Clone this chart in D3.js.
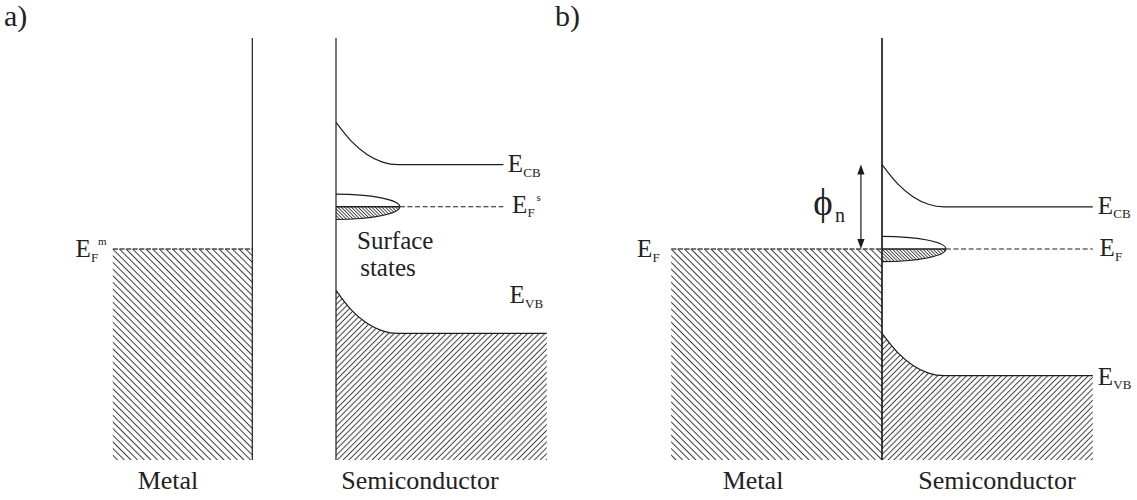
<!DOCTYPE html>
<html>
<head>
<meta charset="utf-8">
<script src="https://cdn.jsdelivr.net/npm/d3@7"></script>
<style>
  html, body { margin: 0; padding: 0; background: #fff; }
  svg { display: block; }
  svg text { font-family: "Liberation Serif", serif; }
</style>
</head>
<body>
<svg id="chart" width="1137" height="500"></svg>
<script>
// ---- Band-diagram data (energies in eV above the bottom of the frame,
//      depth in units of the depletion width W, surface of the semiconductor at 0)
const energyRange = [0, 10];
const panelTags = ["a)", "b)"];
const regionNames = ["Metal", "Semiconductor"];

// a) metal and semiconductor separated
const metalSpanA = [-3.6, -1.35];
const semiSpanA = [0, 3.4];
const fermiMetalA = 5.0;
const fermiSurfaceA = 6.0;
const cbDepthA = [0, 0.25, 0.5, 0.75, 1.0, 2.7];
const cbEnergyA = [8.0, 7.55, 7.24, 7.06, 7.0, 7.0];
const vbDepthA = [0, 0.25, 0.5, 0.75, 1.0, 3.4];
const vbEnergyA = [4.02, 3.55, 3.24, 3.06, 3.0, 3.0];

// b) metal and semiconductor in contact
const metalSpanB = [-3.4, 0];
const semiSpanB = [0, 3.4];
const fermiB = 5.0;
const cbDepthB = [0, 0.25, 0.5, 0.75, 1.0, 3.4];
const cbEnergyB = [7.0, 6.55, 6.24, 6.06, 6.0, 6.0];
const vbDepthB = [0, 0.25, 0.5, 0.75, 1.0, 3.4];
const vbEnergyB = [3.0, 2.55, 2.24, 2.06, 2.0, 2.0];
const barrierB = [fermiB, 7.0];          // phi_n = E_CB(surface) - E_F

// surface-state band: extent into the gap and energy spread about its Fermi level
const surfaceStateDepth = 1.03;
const surfaceStateSpread = 0.3;

// ---- scales
const y = d3.scaleLinear().domain(energyRange).range([460, 38]);
const xA = d3.scaleLinear().domain([0, 1]).range([336, 398]);
const xB = d3.scaleLinear().domain([0, 1]).range([882, 944]);

const svg = d3.select("#chart");
const defs = svg.append("defs");

function hatch(id, spacing, angle, width) {
  const p = defs.append("pattern")
    .attr("id", id)
    .attr("patternUnits", "userSpaceOnUse")
    .attr("width", 10).attr("height", spacing)
    .attr("patternTransform", `rotate(${angle})`);
  p.append("line")
    .attr("x1", 0).attr("x2", 10)
    .attr("y1", spacing / 2).attr("y2", spacing / 2)
    .attr("stroke", "#3a3a3a").attr("stroke-width", width);
}
hatch("hMetal", 4.7, 45, 1);
hatch("hSemi", 4.1, -45, 1);
hatch("hSurf", 2.4, 45, 0.9);

const ink = "#1c1c1c";

function txt(g, x, yy, size, s) {
  return g.append("text")
    .attr("x", x).attr("y", yy)
    .style("font-family", '"Liberation Serif", serif')
    .style("font-size", size + "px")
    .attr("fill", "#222")
    .text(s);
}

function band(depths, energies) {
  return depths.map((d, i) => [d, energies[i]]);
}

function energyLabel(g, px, py, sub, sup, supDx) {
  txt(g, px, py, 25, "E");
  txt(g, px + 15.5, py + 4.5, 13, sub);
  if (sup) txt(g, px + supDx, py - 12, 11, sup);
}

function surfaceStates(g, x, ef, dashEnd) {
  const x0 = x(0), xt = x(surfaceStateDepth);
  const yc = y(ef), yTop = y(ef + surfaceStateSpread), yBot = y(ef - surfaceStateSpread);
  const rx = xt - x0, ryU = yc - yTop, ryL = yBot - yc;
  // occupied lower half
  g.append("path")
    .attr("d", `M${x0},${yc} L${xt},${yc} A${rx},${ryL} 0 0 1 ${x0},${yBot} Z`)
    .attr("fill", "url(#hSurf)").attr("stroke", "none");
  g.append("path")
    .attr("d", `M${xt},${yc} A${rx},${ryL} 0 0 1 ${x0},${yBot}`)
    .attr("fill", "none").attr("stroke", ink).attr("stroke-width", 1.1);
  // empty upper half
  g.append("path")
    .attr("d", `M${x0},${yTop} A${rx},${ryU} 0 0 1 ${xt},${yc}`)
    .attr("fill", "none").attr("stroke", ink).attr("stroke-width", 1.1);
  g.append("line")
    .attr("x1", x0).attr("x2", xt).attr("y1", yc).attr("y2", yc)
    .attr("stroke", ink).attr("stroke-width", 1.6);
  g.append("line")
    .attr("x1", xt).attr("x2", x(dashEnd)).attr("y1", yc).attr("y2", yc)
    .attr("stroke", ink).attr("stroke-width", 1.1)
    .attr("stroke-dasharray", "5,2.6");
}

function drawPanel(x, p) {
  const g = svg.append("g");
  const line = d3.line().x(d => x(d[0])).y(d => y(d[1])).curve(d3.curveMonotoneX);
  const area = d3.area().x(d => x(d[0])).y0(y(energyRange[0])).y1(d => y(d[1])).curve(d3.curveMonotoneX);

  // metal: filled up to its Fermi level
  g.append("rect")
    .attr("x", x(p.metal[0])).attr("width", x(p.metal[1]) - x(p.metal[0]))
    .attr("y", y(p.fermiMetal)).attr("height", y(energyRange[0]) - y(p.fermiMetal))
    .attr("fill", "url(#hMetal)");
  g.append("line")
    .attr("x1", x(p.metal[0])).attr("x2", x(p.metal[1]))
    .attr("y1", y(p.fermiMetal)).attr("y2", y(p.fermiMetal))
    .attr("stroke", "#4a4a4a").attr("stroke-width", 1.5)
    .attr("stroke-dasharray", "5.2,1.4");

  // semiconductor valence band, filled
  g.append("path").datum(p.vb).attr("d", area).attr("fill", "url(#hSemi)");
  g.append("path").datum(p.vb).attr("d", line)
    .attr("fill", "none").attr("stroke", ink).attr("stroke-width", 1.2);
  // conduction band
  g.append("path").datum(p.cb).attr("d", line)
    .attr("fill", "none").attr("stroke", ink).attr("stroke-width", 1.2);

  surfaceStates(g, x, p.fermiSurface, p.dashEnd);

  // surfaces
  [p.metal[1], 0].forEach(d => {
    g.append("line")
      .attr("x1", x(d)).attr("x2", x(d))
      .attr("y1", y(energyRange[1])).attr("y2", y(energyRange[0]))
      .attr("stroke", ink).attr("stroke-width", 1.2);
  });
  return g;
}

// ---- a)
const gA = drawPanel(xA, {
  metal: metalSpanA, fermiMetal: fermiMetalA, fermiSurface: fermiSurfaceA,
  cb: band(cbDepthA, cbEnergyA), vb: band(vbDepthA, vbEnergyA), dashEnd: 2.7
});
energyLabel(gA, xA(2.77), y(cbEnergyA[cbEnergyA.length - 1]) + 7.5, "CB");
energyLabel(gA, xA(2.84), y(fermiSurfaceA) + 6, "F", "s", 24.5);
energyLabel(gA, xA(2.8), y(3.9) + 8, "VB");
energyLabel(gA, xA(-4.2), y(fermiMetalA) + 8, "F", "m", 22.5);
txt(gA, xA(0.34), y(4.99), 25, "Surface");
txt(gA, xA(0.39), y(4.36), 25, "states");

// ---- b)
const gB = drawPanel(xB, {
  metal: metalSpanB, fermiMetal: fermiB, fermiSurface: fermiB,
  cb: band(cbDepthB, cbEnergyB), vb: band(vbDepthB, vbEnergyB), dashEnd: 3.4
});
energyLabel(gB, xB(3.48), y(cbEnergyB[cbEnergyB.length - 1]) + 7, "CB");
energyLabel(gB, xB(3.51), y(fermiB) + 7, "F");
energyLabel(gB, xB(3.48), y(vbEnergyB[vbEnergyB.length - 1]) + 9, "VB");
energyLabel(gB, xB(-3.95), y(fermiB) + 8, "F");

// barrier height arrow
const ax = xB(-0.34);
const yTopA = y(barrierB[1]), yBotA = y(barrierB[0]);
gB.append("line").attr("x1", ax).attr("x2", ax)
  .attr("y1", yTopA + 6).attr("y2", yBotA - 6)
  .attr("stroke", ink).attr("stroke-width", 1.2);
gB.append("path").attr("d", `M${ax},${yTopA} L${ax - 3.6},${yTopA + 10} L${ax + 3.6},${yTopA + 10} Z`).attr("fill", ink);
gB.append("path").attr("d", `M${ax},${yBotA} L${ax - 3.6},${yBotA - 10} L${ax + 3.6},${yBotA - 10} Z`).attr("fill", ink);
txt(gB, xB(-1.11), y(5.8), 37, "ϕ");
txt(gB, xB(-0.76), y(5.64), 20, "n");

// ---- panel tags and region names
panelTags.forEach((t, i) => txt(svg, [4, 555][i], 26, 30, t));

const nameX = [[xA(-2.71), xA(1.355)], [xB(-2.08), xB(1.855)]];
nameX.forEach(pair => {
  pair.forEach((px, i) => {
    txt(svg, px, 489, 26, regionNames[i]).attr("text-anchor", "middle");
  });
});
</script>
</body>
</html>
